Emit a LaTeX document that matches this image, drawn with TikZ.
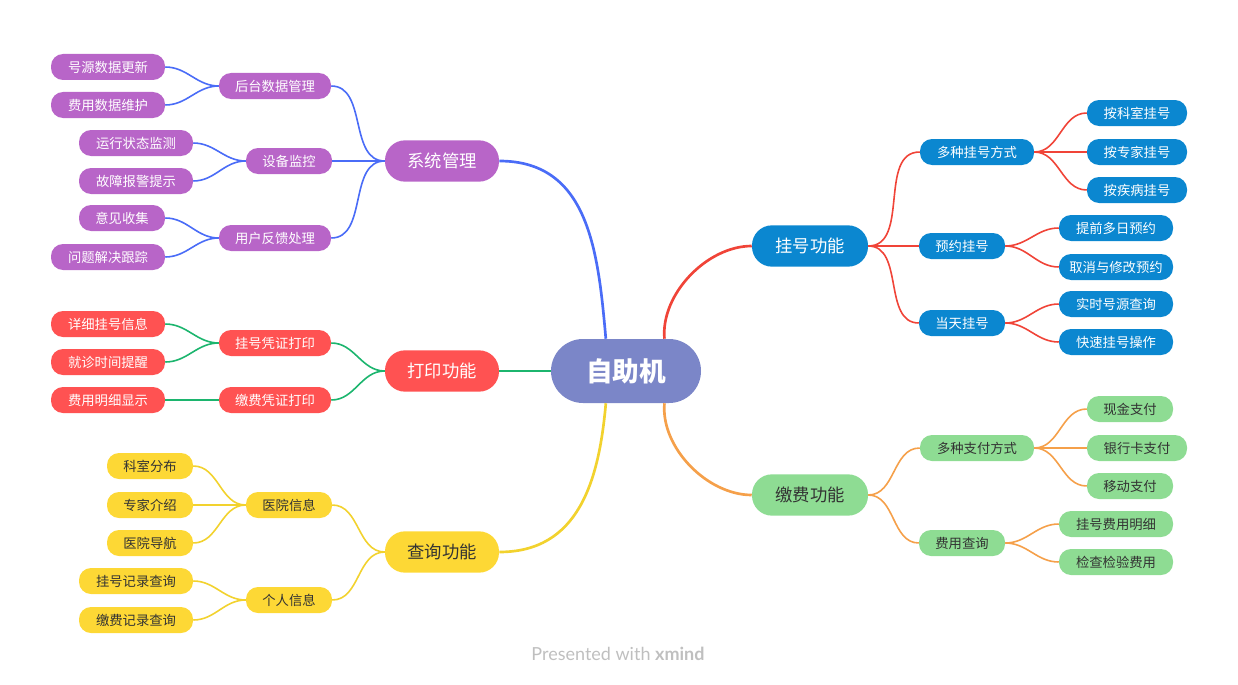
\documentclass[tikz,border=0pt]{standalone}
\usepackage{fontspec}
\setmainfont{Noto Sans CJK SC}
\newfontfamily\footfont{Lato}
\begin{document}
\begin{tikzpicture}[x=0.75pt,y=-0.75pt,
  every node/.style={rounded corners=9pt,inner sep=0pt,font=\fontsize{10}{12}\selectfont},
  w/.style={minimum width=#1*0.75pt},
  leaf/.style={minimum height=19.5pt},
  mainn/.style={minimum height=31pt,rounded corners=15pt,font=\fontsize{13}{15}\selectfont},
  pur/.style={fill=cPur,text=white},
  red/.style={fill=cRed,text=white},
  yel/.style={fill=cYel,text=black!80},
  blu/.style={fill=cBlu,text=white},
  grn/.style={fill=cGrn,text=black!80},
  ed/.style={line width=1.2pt},
  med/.style={line width=2pt},
]
\definecolor{cPur}{HTML}{B865C8}
\definecolor{cRed}{HTML}{FF5252}
\definecolor{cYel}{HTML}{FDD835}
\definecolor{cBlu}{HTML}{0B87D0}
\definecolor{cGrn}{HTML}{8EDC93}
\definecolor{eBlu}{HTML}{4A6CF7}
\definecolor{eGrn}{HTML}{1CB56E}
\definecolor{eYel}{HTML}{F2D22E}
\definecolor{eRed}{HTML}{F04438}
\definecolor{eOra}{HTML}{F5A04A}
\definecolor{cRoot}{HTML}{7B86C8}
\useasboundingbox (0,0) rectangle (1238,685);

\node[w=150,minimum height=48pt,rounded corners=24pt,fill=cRoot,text=white,font=\fontsize{20}{22}\selectfont\bfseries] (root) at (626,371) {自助机};

% main
\node[mainn,pur,w=114] (sys) at (442,161) {系统管理};
\node[mainn,red,w=114] (prt) at (442,371) {打印功能};
\node[mainn,yel,w=114] (qry) at (442,552) {查询功能};
\node[mainn,blu,w=116] (reg) at (810,246) {挂号功能};
\node[mainn,grn,w=116] (pay) at (810,495) {缴费功能};

% sys
\node[leaf,pur,w=112] (s1) at (275,86) {后台数据管理};
\node[leaf,pur,w=86] (s2) at (289,161) {设备监控};
\node[leaf,pur,w=112] (s3) at (275,238) {用户反馈处理};
\node[leaf,pur,w=114] (s11) at (108,67) {号源数据更新};
\node[leaf,pur,w=114] (s12) at (108,105) {费用数据维护};
\node[leaf,pur,w=114] (s21) at (136,143) {运行状态监测};
\node[leaf,pur,w=114] (s22) at (136,181) {故障报警提示};
\node[leaf,pur,w=86] (s31) at (122,218) {意见收集};
\node[leaf,pur,w=114] (s32) at (108,257) {问题解决跟踪};
% print
\node[leaf,red,w=112] (p1) at (275,343) {挂号凭证打印};
\node[leaf,red,w=112] (p2) at (275,400) {缴费凭证打印};
\node[leaf,red,w=114] (p11) at (108,324) {详细挂号信息};
\node[leaf,red,w=114] (p12) at (108,362) {就诊时间提醒};
\node[leaf,red,w=114] (p21) at (108,400) {费用明细显示};
% query
\node[leaf,yel,w=86] (q1) at (289,505) {医院信息};
\node[leaf,yel,w=86] (q2) at (289,600) {个人信息};
\node[leaf,yel,w=86] (q11) at (150,466) {科室分布};
\node[leaf,yel,w=86] (q12) at (150,505) {专家介绍};
\node[leaf,yel,w=86] (q13) at (150,543) {医院导航};
\node[leaf,yel,w=114] (q21) at (136,581) {挂号记录查询};
\node[leaf,yel,w=114] (q22) at (136,620) {缴费记录查询};
% reg
\node[leaf,blu,w=114] (r1) at (977,152) {多种挂号方式};
\node[leaf,blu,w=86] (r2) at (962,246) {预约挂号};
\node[leaf,blu,w=86] (r3) at (962,323) {当天挂号};
\node[leaf,blu,w=100] (r11) at (1137,113) {按科室挂号};
\node[leaf,blu,w=100] (r12) at (1137,152) {按专家挂号};
\node[leaf,blu,w=100] (r13) at (1137,190) {按疾病挂号};
\node[leaf,blu,w=114] (r21) at (1116,228) {提前多日预约};
\node[leaf,blu,w=114] (r22) at (1116,267) {取消与修改预约};
\node[leaf,blu,w=114] (r31) at (1116,304) {实时号源查询};
\node[leaf,blu,w=114] (r32) at (1116,342) {快速挂号操作};
% pay
\node[leaf,grn,w=114] (y1) at (977,448) {多种支付方式};
\node[leaf,grn,w=86] (y2) at (962,543) {费用查询};
\node[leaf,grn,w=86] (y11) at (1130,409) {现金支付};
\node[leaf,grn,w=100] (y12) at (1137,448) {银行卡支付};
\node[leaf,grn,w=86] (y13) at (1130,486) {移动支付};
\node[leaf,grn,w=114] (y21) at (1116,524) {挂号费用明细};
\node[leaf,grn,w=114] (y22) at (1116,562) {检查检验费用};

\node[text=black!25,font=\footfont\fontsize{13.5}{15}\selectfont] (foot) at (618,654) {Presented with \textbf{xmind}};

% main edges
\draw[med,eBlu] (root.122) to[out=95,in=0,looseness=1.1] (sys.east);
\draw[med,eGrn] (root.west) -- (prt.east);
\draw[med,eYel] (root.238) to[out=265,in=0,looseness=1.1] (qry.east);
\draw[med,eRed] (root.40) to[out=95,in=180,looseness=0.9] (reg.west);
\draw[med,eOra] (root.320) to[out=265,in=180,looseness=0.9] (pay.west);

\foreach \a/\b in {sys/s1,sys/s2,sys/s3,s1/s11,s1/s12,s2/s21,s2/s22,s3/s31,s3/s32}
  \draw[ed,eBlu] (\a.west) to[out=180,in=0] (\b.east);
\foreach \a/\b in {prt/p1,prt/p2,p1/p11,p1/p12,p2/p21}
  \draw[ed,eGrn] (\a.west) to[out=180,in=0] (\b.east);
\foreach \a/\b in {qry/q1,qry/q2,q1/q11,q1/q12,q1/q13,q2/q21,q2/q22}
  \draw[ed,eYel] (\a.west) to[out=180,in=0] (\b.east);
\foreach \a/\b in {reg/r1,reg/r2,reg/r3,r1/r11,r1/r12,r1/r13,r2/r21,r2/r22,r3/r31,r3/r32}
  \draw[ed,eRed] (\a.east) to[out=0,in=180] (\b.west);
\foreach \a/\b in {pay/y1,pay/y2,y1/y11,y1/y12,y1/y13,y2/y21,y2/y22}
  \draw[ed,eOra] (\a.east) to[out=0,in=180] (\b.west);
\end{tikzpicture}
\end{document}
